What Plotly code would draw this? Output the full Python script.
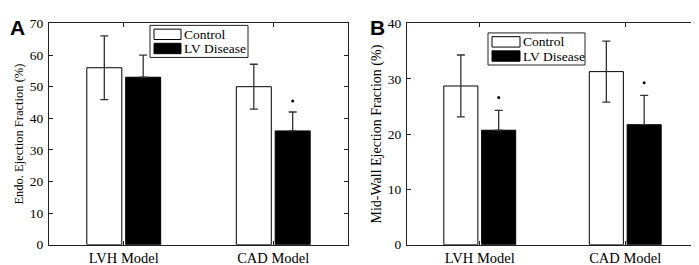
import plotly.graph_objects as go

categories = ["LVH Model", "CAD Model"]
series_names = ["Control", "LV Disease"]

# Panel A: Endo. Ejection Fraction (%)
endo_control = [56.0, 50.0]
endo_control_err = [10.1, 7.1]
endo_disease = [53.0, 36.0]
endo_disease_err = [7.0, 6.0]
endo_sig = [None, 45.5]

# Panel B: Mid-Wall Ejection Fraction (%)
mid_control = [28.7, 31.3]
mid_control_err = [5.6, 5.5]
mid_disease = [20.7, 21.7]
mid_disease_err = [3.6, 5.3]
mid_sig = [26.6, 29.3]

yticks_a = [0, 10, 20, 30, 40, 50, 60, 70]
yticks_b = [0, 10, 20, 30, 40]

W, H = 699, 265
SERIF = "Liberation Serif, Times New Roman, serif"
SANS = "Liberation Sans, Arial, sans-serif"

def px(x):
    return x / W

def py(y):
    return 1 - y / H

fig = go.Figure()

panels = [
    ("x", "y", endo_control, endo_control_err, endo_disease, endo_disease_err, endo_sig),
    ("x2", "y2", mid_control, mid_control_err, mid_disease, mid_disease_err, mid_sig),
]
for xa, ya, ctrl, cerr, dis, derr, sig in panels:
    fig.add_trace(go.Bar(
        x=categories, y=ctrl, name=series_names[0], xaxis=xa, yaxis=ya,
        offsetgroup="c", showlegend=False,
        marker=dict(color="white", line=dict(color="black", width=1)),
        error_y=dict(type="data", array=cerr, color="#333", thickness=1.3, width=4),
    ))
    fig.add_trace(go.Bar(
        x=categories, y=dis, name=series_names[1], xaxis=xa, yaxis=ya,
        offsetgroup="d", showlegend=False,
        marker=dict(color="black", line=dict(color="black", width=1)),
        error_y=dict(type="data", symmetric=False, array=derr,
                     arrayminus=[0] * len(derr), color="#333", thickness=1.3, width=4),
    ))
    fig.add_trace(go.Scatter(
        x=categories, y=sig, xaxis=xa, yaxis=ya, mode="markers",
        offsetgroup="d", showlegend=False,
        marker=dict(color="black", size=3, symbol="circle"),
    ))

axis_common = dict(
    showline=True, linecolor="#222", linewidth=1, mirror="ticks",
    ticks="inside", ticklen=4, tickcolor="#222", showgrid=False, zeroline=False,
)
xfont = dict(family=SERIF, size=14.5, color="black")
yfont = dict(family=SERIF, size=13.5, color="black")

top, bottom = 9, 243.5
fig.update_layout(
    width=W, height=H, margin=dict(l=0, r=0, t=0, b=0),
    paper_bgcolor="white", plot_bgcolor="white",
    barmode="group", bargap=0.48, bargroupgap=0.1, scattermode="group",
    showlegend=False,
    xaxis=dict(domain=[px(41), px(340)], anchor="y", range=[-0.5, 1.5],
               tickfont=xfont, **axis_common),
    yaxis=dict(domain=[py(bottom), py(top)], anchor="x", range=[0, 70],
               tickvals=yticks_a, tickfont=yfont, ticklabelstandoff=2, **axis_common,
               title=dict(text="Endo. Ejection Fraction (%)", standoff=3,
                          font=dict(family=SERIF, size=12.5, color="black"))),
    xaxis2=dict(domain=[px(399), px(690)], anchor="y2", range=[-0.5, 1.5],
                tickfont=xfont, **axis_common),
    yaxis2=dict(domain=[py(bottom), py(top)], anchor="x2", range=[0, 40],
                tickvals=yticks_b, tickfont=yfont, ticklabelstandoff=2, **axis_common,
                title=dict(text="Mid-Wall Ejection Fraction (%)", standoff=2,
                           font=dict(family=SERIF, size=14, color="black"))),
)

# Panel letters
fig.add_annotation(text="<b>A</b>", x=px(0), y=py(-1), xref="paper", yref="paper",
                   xanchor="left", yanchor="top", showarrow=False,
                   font=dict(family=SANS, size=21, color="black"))
fig.add_annotation(text="<b>B</b>", x=px(360), y=py(-1), xref="paper", yref="paper",
                   xanchor="left", yanchor="top", showarrow=False,
                   font=dict(family=SANS, size=21, color="black"))

# Custom legends (MATLAB style)
legends = [
    dict(box=(142, 11, 240, 45), r1=(146, 15, 173, 26), r2=(146, 30, 173, 41), tx=174),
    dict(box=(480, 19, 577, 53), r1=(484, 23, 512, 34), r2=(484, 38, 512, 49), tx=513),
]
for lg in legends:
    x0, y0, x1, y1 = lg["box"]
    fig.add_shape(type="rect", xref="paper", yref="paper",
                  x0=px(x0), x1=px(x1), y0=py(y1), y1=py(y0),
                  line=dict(color="#222", width=1), fillcolor="white")
    for (rx0, ry0, rx1, ry1), fill, label in [(lg["r1"], "white", series_names[0]),
                                              (lg["r2"], "black", series_names[1])]:
        fig.add_shape(type="rect", xref="paper", yref="paper",
                      x0=px(rx0), x1=px(rx1), y0=py(ry1), y1=py(ry0),
                      line=dict(color="black", width=1), fillcolor=fill)
        fig.add_annotation(text=label, x=px(lg["tx"]), y=py((ry0 + ry1) / 2),
                           xref="paper", yref="paper", xanchor="left", yanchor="middle",
                           showarrow=False,
                           font=dict(family=SERIF, size=13.5, color="black"))

fig.write_html("out.html")
